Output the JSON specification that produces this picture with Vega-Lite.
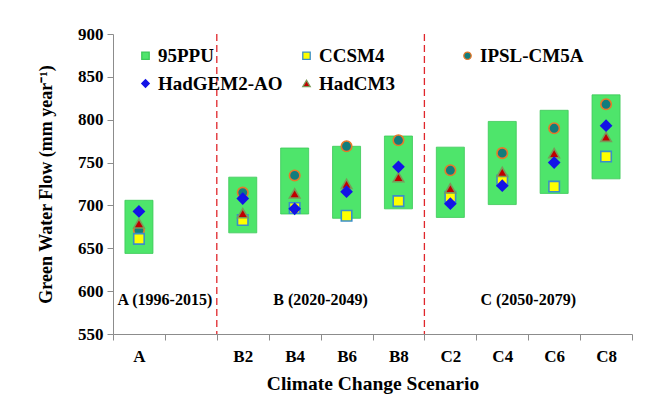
{
  "$schema": "https://vega.github.io/schema/vega-lite/v6.json",
  "width": 519,
  "height": 300,
  "autosize": "none",
  "padding": {"left": 113, "top": 34, "right": 19, "bottom": 63},
  "background": "white",
  "config": {
    "view": {"stroke": null},
    "font": "Liberation Serif",
    "axis": {"labelFont": "Liberation Serif", "titleFont": "Liberation Serif", "labelFontWeight": "bold", "titleFontWeight": "bold", "labelColor": "#000", "titleColor": "#000", "domainColor": "#8c8c8c", "tickColor": "#8c8c8c", "grid": false}
  },
  "datasets": {
    "ppu": [
      {"scenario": "A", "low": 644, "high": 706},
      {"scenario": "B2", "low": 668, "high": 733},
      {"scenario": "B4", "low": 690, "high": 767},
      {"scenario": "B6", "low": 685, "high": 769},
      {"scenario": "B8", "low": 696, "high": 781},
      {"scenario": "C2", "low": 686, "high": 768},
      {"scenario": "C4", "low": 701, "high": 798},
      {"scenario": "C6", "low": 714, "high": 811},
      {"scenario": "C8", "low": 731, "high": 829}
    ],
    "models": [
      {"scenario": "A", "model": "IPSL-CM5A", "value": 671},
      {"scenario": "A", "model": "CCSM4", "value": 661},
      {"scenario": "A", "model": "HadCM3", "value": 679},
      {"scenario": "A", "model": "HadGEM2-AO", "value": 693},
      {"scenario": "B2", "model": "IPSL-CM5A", "value": 715},
      {"scenario": "B2", "model": "CCSM4", "value": 683},
      {"scenario": "B2", "model": "HadCM3", "value": 691},
      {"scenario": "B2", "model": "HadGEM2-AO", "value": 708},
      {"scenario": "B4", "model": "IPSL-CM5A", "value": 735},
      {"scenario": "B4", "model": "CCSM4", "value": 697},
      {"scenario": "B4", "model": "HadCM3", "value": 714},
      {"scenario": "B4", "model": "HadGEM2-AO", "value": 696},
      {"scenario": "B6", "model": "IPSL-CM5A", "value": 769},
      {"scenario": "B6", "model": "CCSM4", "value": 688},
      {"scenario": "B6", "model": "HadCM3", "value": 725},
      {"scenario": "B6", "model": "HadGEM2-AO", "value": 716},
      {"scenario": "B8", "model": "IPSL-CM5A", "value": 776},
      {"scenario": "B8", "model": "CCSM4", "value": 705},
      {"scenario": "B8", "model": "HadCM3", "value": 733},
      {"scenario": "B8", "model": "HadGEM2-AO", "value": 745},
      {"scenario": "C2", "model": "IPSL-CM5A", "value": 741},
      {"scenario": "C2", "model": "CCSM4", "value": 710},
      {"scenario": "C2", "model": "HadCM3", "value": 720},
      {"scenario": "C2", "model": "HadGEM2-AO", "value": 702},
      {"scenario": "C4", "model": "IPSL-CM5A", "value": 761},
      {"scenario": "C4", "model": "CCSM4", "value": 729},
      {"scenario": "C4", "model": "HadCM3", "value": 739},
      {"scenario": "C4", "model": "HadGEM2-AO", "value": 723},
      {"scenario": "C6", "model": "IPSL-CM5A", "value": 790},
      {"scenario": "C6", "model": "CCSM4", "value": 722},
      {"scenario": "C6", "model": "HadCM3", "value": 761},
      {"scenario": "C6", "model": "HadGEM2-AO", "value": 750},
      {"scenario": "C8", "model": "IPSL-CM5A", "value": 818},
      {"scenario": "C8", "model": "CCSM4", "value": 757},
      {"scenario": "C8", "model": "HadCM3", "value": 780},
      {"scenario": "C8", "model": "HadGEM2-AO", "value": 793}
    ],
    "periods": [
      {"scenario": "A", "label": "A (1996-2015)", "y": 590},
      {"scenario": "B4", "label": "B (2020-2049)", "y": 590},
      {"scenario": "C4", "label": "C (2050-2079)", "y": 590}
    ],
    "dividers": [
      {"scenario": "B2"},
      {"scenario": "C2"}
    ]
  },
  "layer": [
    {
      "data": {"name": "ppu"},
      "mark": {"type": "bar", "fill": "#4ee56b", "stroke": "#3cc858", "strokeWidth": 0.8, "width": {"band": 0.54}},
      "encoding": {
        "x": {
          "field": "scenario", "type": "nominal",
          "scale": {"domain": ["A", "blank", "B2", "B4", "B6", "B8", "C2", "C4", "C6", "C8"], "paddingInner": 0, "paddingOuter": 0},
          "axis": {
            "title": "Climate Change Scenario",
            "titleFontSize": 19.5,
            "titlePadding": 10,
            "labelFontSize": 17,
            "labelAngle": 0,
            "labelPadding": 8,
            "tickBand": "extent",
            "tickSize": 6,
            "labelExpr": "datum.value == 'blank' ? '' : datum.value"
          }
        },
        "y": {
          "field": "low", "type": "quantitative",
          "scale": {"domain": [550, 900], "nice": false, "zero": false},
          "axis": {
            "title": "Green Water Flow (mm year⁻¹)",
            "titleFontSize": 18,
            "titlePadding": 22,
            "labelFontSize": 17,
            "labelPadding": 4,
            "tickSize": 6,
            "values": [550, 600, 650, 700, 750, 800, 850, 900]
          }
        },
        "y2": {"field": "high"}
      }
    },
    {
      "data": {"name": "dividers"},
      "mark": {"type": "rule", "color": "#e0262b", "strokeDash": [7, 4], "strokeWidth": 1.3},
      "encoding": {
        "x": {"field": "scenario", "type": "nominal", "bandPosition": 0}
      }
    },
    {
      "data": {"name": "periods"},
      "mark": {"type": "text", "font": "Liberation Serif", "fontWeight": "bold", "fontSize": 16, "color": "#000"},
      "encoding": {
        "x": {"field": "scenario", "type": "nominal", "bandPosition": 1},
        "y": {"field": "y", "type": "quantitative"},
        "text": {"field": "label"}
      }
    },
    {
      "data": {"name": "models"},
      "mark": {"type": "point", "filled": true, "size": 110, "strokeWidth": 1.6, "opacity": 1},
      "encoding": {
        "x": {"field": "scenario", "type": "nominal"},
        "y": {"field": "value", "type": "quantitative"},
        "fill": {
          "field": "model", "type": "nominal",
          "scale": {"domain": ["95PPU", "HadGEM2-AO", "CCSM4", "HadCM3", "IPSL-CM5A"], "range": ["#4ee56b", "#1414e6", "#ffff00", "#c00000", "#127c7c"]},
          "legend": {
            "title": null,
            "orient": "none",
            "legendX": 23,
            "legendY": 12,
            "columns": 3,
            "gridAlign": "all",
            "columnPadding": 14,
            "rowPadding": 8,
            "labelFont": "Liberation Serif",
            "labelFontWeight": "bold",
            "labelFontSize": 19,
            "labelColor": "#000",
            "labelOffset": 3,
            "symbolSize": 55,
            "symbolStrokeWidth": 1.3
          }
        },
        "shape": {
          "field": "model", "type": "nominal",
          "scale": {"domain": ["95PPU", "HadGEM2-AO", "CCSM4", "HadCM3", "IPSL-CM5A"], "range": ["square", "diamond", "square", "triangle-up", "circle"]}
        },
        "stroke": {
          "field": "model", "type": "nominal",
          "scale": {"domain": ["95PPU", "HadGEM2-AO", "CCSM4", "HadCM3", "IPSL-CM5A"], "range": ["#3cc858", "#1414e6", "#3a8fc8", "#7a9a5a", "#e8782a"]}
        }
      }
    }
  ]
}
